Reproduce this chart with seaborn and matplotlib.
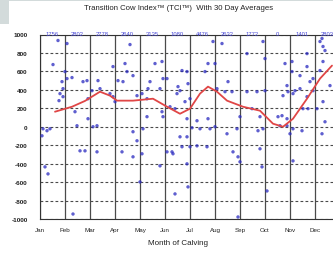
import matplotlib
matplotlib.use("Agg")
import matplotlib.pyplot as plt
import seaborn as sns
import pandas as pd
from matplotlib.patches import Rectangle

months = ["Jan", "Feb", "Mar", "Apr", "May", "Jun", "Jul", "Aug", "Sep", "Oct", "Nov", "Dec", "Jan"]
counts = ["1756", "2802", "2778", "2640", "3135", "1080", "4476", "2632", "1772", "0", "1401", "2803"]
y_ticks = [1000, 800, 600, 400, 200, 0, -200, -400, -600, -800, -1000]

cow_month = [0.72, 1.08, 0.52, 1.0, 0.88, 1.08, 1.28, 1.72, 1.88, 2.32, 2.08, 2.4, 0.92, 0.8, 0.76, 0.92,
             1.4, 1.92, 1.48, 2.28, 2.12, 0.12, 0.4, 0.08, 0.28, 1.6, 1.8, 2.28, 0.2, 0.32, 1.32, 1.92,
             2.92, 3.0, 2.8,
             3.6, 3.4, 2.92, 3.48, 3.12, 3.32, 3.72, 3.88, 4.08, 4.28, 4.32, 4.4, 4.6, 4.88, 4.92, 5.08,
             4.8, 4.88, 4.92, 5.2, 5.4, 5.48, 5.6, 5.68, 5.88, 5.52, 5.92, 6.0, 5.8, 5.88, 6.08, 5.6,
             5.88, 5.08, 5.32, 5.28, 5.68, 6.0, 6.28, 4.8, 5.88, 5.92, 5.4, 4.0, 3.72, 4.08, 3.88, 3.28,
             3.72, 4.28, 4.12, 6.4, 6.28, 6.72, 6.8, 6.68, 6.6, 6.72, 7.0, 6.92, 7.28, 7.0, 7.08, 7.4,
             7.52, 7.68, 7.48, 7.72, 7.92, 8.0, 7.88, 8.0, 8.28, 8.28, 8.48, 8.68, 8.8, 8.72, 8.92, 9.0,
             9.0, 8.92, 8.88, 9.08, 8.8, 9.68, 9.6, 9.88, 10.12, 10.0, 10.48, 10.12, 10.08, 9.8, 10.4,
             9.92, 10.12, 10.68, 10.72, 10.68, 10.92, 11.2, 11.2, 11.32, 11.28, 11.6, 11.4, 10.4,
             11.28, 11.4, 11.32, 10.68, 10.08, 9.88, 10.8, 10.92, 10.2, 9.72, 11.08, 11.32, 10.52,
             9.52, 9.88, 7.92]
cow_tci = [935, 902, 674, 598, 489, 522, 533, 489, 500, 500, 391, 413, 413, 359, 283, 326,
           163, 87, 11, 11, 0, -22, -22, -98, -43, -261, -261, -272, -435, -511, -946, 304,
           326, 272, 359,
           891, 685, 652, 598, 500, 489, 554, 337, 359, 304, 413, 489, 685, 707, 522, 522,
           413, 163, 109, 217, 196, 359, 391, 609, 598, 435, 467, 304, 272, 87, -11, -109,
           -109, -272, -293, -272, -217, -217, -207, -424, -402, -652, -728, -598, -326, -293, -152, -272,
           -54, 109, -22, -22, 65, 87, -22, -217, 598, 685, 685, 924, 902, 0, 413, 380,
           489, 380, -76, -272, -326, -380, -22, 109, 793, 380, 196, 380, 109, -43, -22, 391,
           739, 924, -435, -696, -239, 120, 11, 87, -22, -76, -43, -370, 707, 685, 554,
           380, 359, 326, 196, 652, 522, 609, 924, 870, -76, 446, 54, 413,
           957, 826, 707, 793, 598, 446, 489, 391, 391, 337, 196, 272, 196,
           109, 11, -978]

avg_month = [0.6, 1.28, 1.8, 2.4, 2.8, 3.08, 3.72, 4.52, 5.08, 5.6, 6.0, 6.4, 6.72, 7.08, 7.48,
             8.12, 8.8, 9.32, 9.72, 10.12, 10.68, 11.2, 11.68]
avg_tci = [163, 217, 280, 380, 337, 283, 283, 304, 217, 141, 196, 359, 435, 380, 283,
           217, 174, 33, 0, 87, 304, 522, 663]

sns.set_style("white")
plt.rcParams['font.family'] = ['Liberation Sans', 'DejaVu Sans']

fig = plt.figure(figsize=(3.33, 2.55), dpi=100)
W, H = 333, 255
ax = fig.add_axes([40 / W, 1 - 220 / H, 300 / W, 184.5 / H])

# page grey corner
fig.patches.append(Rectangle((0, 1 - 25 / H), 9 / W, 25 / H, transform=fig.transFigure,
                             facecolor="#d3dbdb", edgecolor="none", zorder=0))
fig.patches.append(Rectangle((0, 1 - 2 / H), 1, 2 / H, transform=fig.transFigure,
                             facecolor="#d3dbdb", edgecolor="none", zorder=0))

ax.set_xlim(0, 12)
ax.set_ylim(-1000, 1000)
ax.set_xticks(range(13))
ax.set_xticklabels(months, fontsize=4.5, color="#222222")
ax.set_yticks(y_ticks)
ax.set_yticklabels([str(v) for v in y_ticks], fontsize=4.6, color="#222222", fontweight="bold")
ax.tick_params(axis="both", length=0, pad=6)
ax.tick_params(axis="y", pad=9)

for m in range(13):
    ax.axvline(m, color="#4a4a4a", lw=0.9, zorder=1)
for v in y_ticks:
    ax.axhline(v, color="#4a4a4a", lw=0.8, ls=(0, (2.5, 2)), zorder=1)

df_cows = pd.DataFrame({"month": cow_month, "tci": cow_tci})
df_avg = pd.DataFrame({"month": avg_month, "tci": avg_tci})

sns.scatterplot(data=df_cows, x="month", y="tci", ax=ax, s=6, color="#2a2ac0",
                edgecolor="none", alpha=0.75, zorder=3)
sns.lineplot(data=df_avg, x="month", y="tci", ax=ax, color="#e04646", lw=1.3,
             sort=False, zorder=4)

ax.set_xlabel("")
ax.set_ylabel("")
for s in ax.spines.values():
    s.set_color("#333333")
    s.set_linewidth(0.8)

for i, c in enumerate(counts):
    ax.text(i + 0.5, 1000 + 85 * (184.5 / 2000) * 200 / 18.4 / 10.0, c, ha="center", va="center",
            fontsize=4.2, color="#4a4ad8", clip_on=False)

fig.text(179 / W, 1 - 8 / H, "Transition Cow Index\u2122 (TCI\u2122)  With 30 Day Averages",
         ha="center", va="center", fontsize=5.6, color="#222222")
fig.text(178 / W, 1 - 244 / H, "Month of Calving", ha="center", va="center",
         fontsize=5.8, color="#222222")

fig.savefig("out.png", dpi=100)
